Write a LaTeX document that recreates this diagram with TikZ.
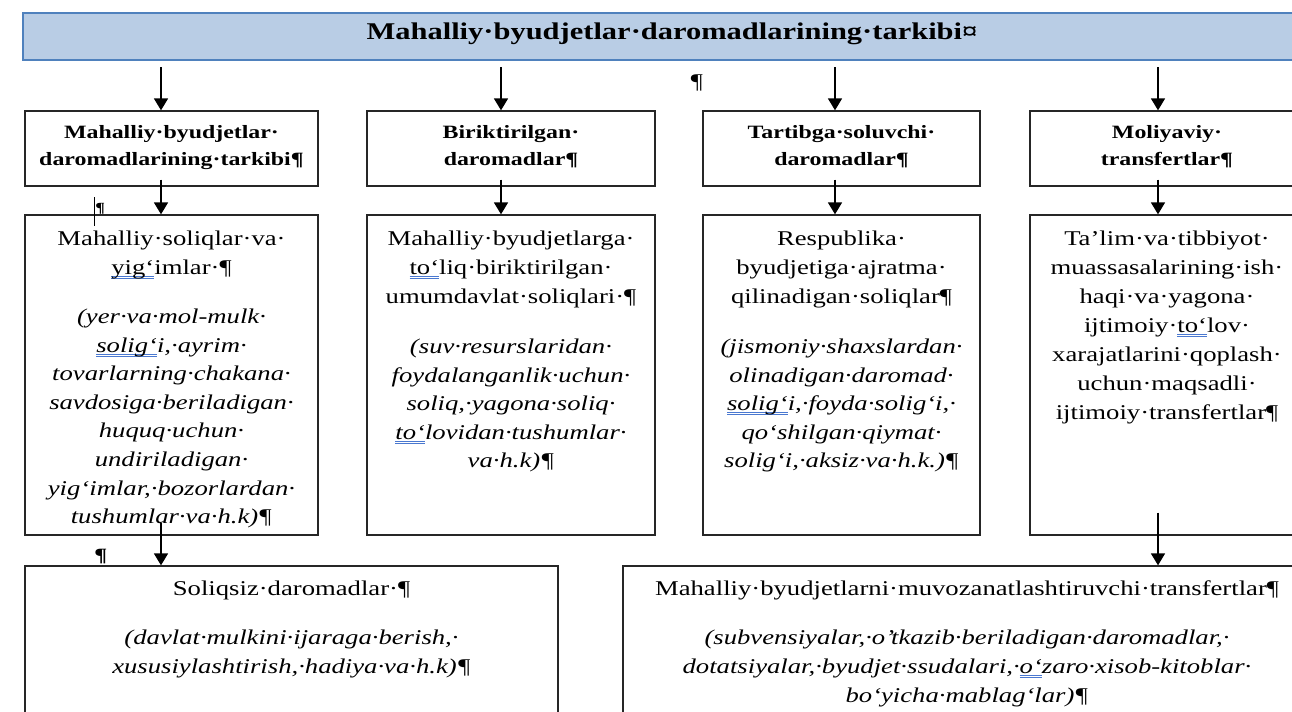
\documentclass[tikz,border=0pt]{standalone}
\usepackage{fontspec}
\setmainfont{Liberation Serif}[FakeStretch=1.27]
\usetikzlibrary{arrows.meta,fit}
\definecolor{bannerfill}{HTML}{B9CDE5}
\definecolor{bannerline}{HTML}{4F81BD}
\definecolor{spellblue}{HTML}{4A78D0}
\newsavebox{\spellbox}
\newcommand{\spell}[1]{\sbox{\spellbox}{#1}%
  \rlap{\color{spellblue}\rule[-1.2pt]{\wd\spellbox}{0.35pt}}%
  \rlap{\color{spellblue}\rule[-2.2pt]{\wd\spellbox}{0.35pt}}%
  \usebox{\spellbox}}
\begin{document}
\begin{tikzpicture}[x=0.5pt, y=-0.5pt,
    box/.style={draw=black!85, line width=0.65pt, inner sep=0pt},
    head/.style={anchor=north, inner sep=0pt, align=center, font=\fontsize{9.4}{13.5}\selectfont\bfseries},
    body/.style={anchor=north, inner sep=0pt, align=center, font=\fontsize{10.5}{14.5}\selectfont},
    note/.style={body, font=\fontsize{10.5}{14.3}\selectfont\itshape},
    link/.style={-{Triangle[width=7pt,length=6pt]}, line width=0.8pt},
    pilcrow/.style={anchor=base west, inner sep=0pt, font=\fontsize{9.4}{11}\selectfont\bfseries}]

  \path[use as bounding box, clip] (0,0) rectangle (1292,712);

  % banner
  \node[box, draw=bannerline, line width=1pt, fill=bannerfill, fit={(23,13) (1320,60)}] (banner) {};
  \node[anchor=base, inner sep=0pt, font=\fontsize{12}{14}\selectfont\bfseries] (title) at (672,39.5) {Mahalliy·byudjetlar·daromadlarining·tarkibi¤};
  \node[body, anchor=base] (p1) at (697,88) {¶};

  % first row
  \node[box, fit={(25,111) (318,186)}] (h1) {};
  \node[box, fit={(367,111) (655,186)}] (h2) {};
  \node[box, fit={(703,111) (980,186)}] (h3) {};
  \node[box, fit={(1030,111) (1304,186)}] (h4) {};
  \node[head] (h1t) at (171.5,124.6) {Mahalliy·byudjetlar·\\daromadlarining·tarkibi¶};
  \node[head] (h2t) at (511,124.6) {Biriktirilgan·\\daromadlar¶};
  \node[head] (h3t) at (841.5,124.6) {Tartibga·soluvchi·\\daromadlar¶};
  \node[head] (h4t) at (1167,124.6) {Moliyaviy·\\transfertlar¶};

  % second row
  \node[box, fit={(25,215) (318,535)}] (d1) {};
  \node[box, fit={(367,215) (655,535)}] (d2) {};
  \node[box, fit={(703,215) (980,535)}] (d3) {};
  \node[box, fit={(1030,215) (1304,535)}] (d4) {};
  \node[body] (d1t) at (171.5,230.5) {Mahalliy·soliqlar·va·\\\spell{yig‘}imlar·¶};
  \node[note] (d1n) at (171.5,308.5) {(yer·va·mol-mulk·\\\spell{solig‘}i,·ayrim·\\tovarlarning·chakana·\\savdosiga·beriladigan·\\huquq·uchun·\\undiriladigan·\\yig‘imlar,·bozorlardan·\\tushumlar·va·h.k)¶};
  \node[body] (d2t) at (511,230.5) {Mahalliy·byudjetlarga·\\\spell{to‘}liq·biriktirilgan·\\umumdavlat·soliqlari·¶};
  \node[note] (d2n) at (511,338.5) {(suv·resurslaridan·\\foydalanganlik·uchun·\\soliq,·yagona·soliq·\\\spell{to‘}lovidan·tushumlar·\\va·h.k)¶};
  \node[body] (d3t) at (841.5,230.5) {Respublika·\\byudjetiga·ajratma·\\qilinadigan·soliqlar¶};
  \node[note] (d3n) at (841.5,338.5) {(jismoniy·shaxslardan·\\olinadigan·daromad·\\\spell{solig‘}i,·foyda·solig‘i,·\\qo‘shilgan·qiymat·\\solig‘i,·aksiz·va·h.k.)¶};
  \node[body] (d4t) at (1167,230.5) {Ta’lim·va·tibbiyot·\\muassasalarining·ish·\\haqi·va·yagona·\\ijtimoiy·\spell{to‘}lov·\\xarajatlarini·qoplash·\\uchun·maqsadli·\\ijtimoiy·transfertlar¶};
  \node[pilcrow, font=\fontsize{7}{8}\selectfont\bfseries] (p2) at (95,212) {¶};
  \draw[line width=0.4pt] (94,197) -- (94,226);

  % third row
  \node[box, fit={(25,566) (558,730)}] (s1) {};
  \node[box, fit={(623,566) (1311,730)}] (s2) {};
  \node[body] (s1t) at (291.5,580.5) {Soliqsiz·daromadlar·¶};
  \node[note, font=\fontsize{10.5}{14.5}\selectfont\itshape] (s1n) at (291.5,629.5) {(davlat·mulkini·ijaraga·berish,·\\xususiylashtirish,·hadiya·va·h.k)¶};
  \node[body] (s2t) at (967,580.5) {Mahalliy·byudjetlarni·muvozanatlashtiruvchi·transfertlar¶};
  \node[note, font=\fontsize{10.5}{14.5}\selectfont\itshape] (s2n) at (967,629.5) {(subvensiyalar,·o’tkazib·beriladigan·daromadlar,·\\dotatsiyalar,·byudjet·ssudalari,·\spell{o‘}zaro·xisob-kitoblar·\\bo‘yicha·mablag‘lar)¶};
  \node[pilcrow] (p3) at (94,561) {¶};

  % arrows
  \coordinate (c1) at (161,0);
  \coordinate (c2) at (501,0);
  \coordinate (c3) at (835,0);
  \coordinate (c4) at (1158,0);
  \foreach \i in {1,...,4} {
    \draw[link] (c\i |- banner.south) ++(0,6) -- (c\i |- h\i.north);
    \draw[link] (c\i |- h\i.south) ++(0,-7) -- (c\i |- d\i.north);
  }
  \draw[link] (c1 |- d1.south) ++(0,-13) -- (c1 |- s1.north);
  \draw[link] (c4 |- d4.south) ++(0,-23) -- (c4 |- s2.north);
\end{tikzpicture}
\end{document}
